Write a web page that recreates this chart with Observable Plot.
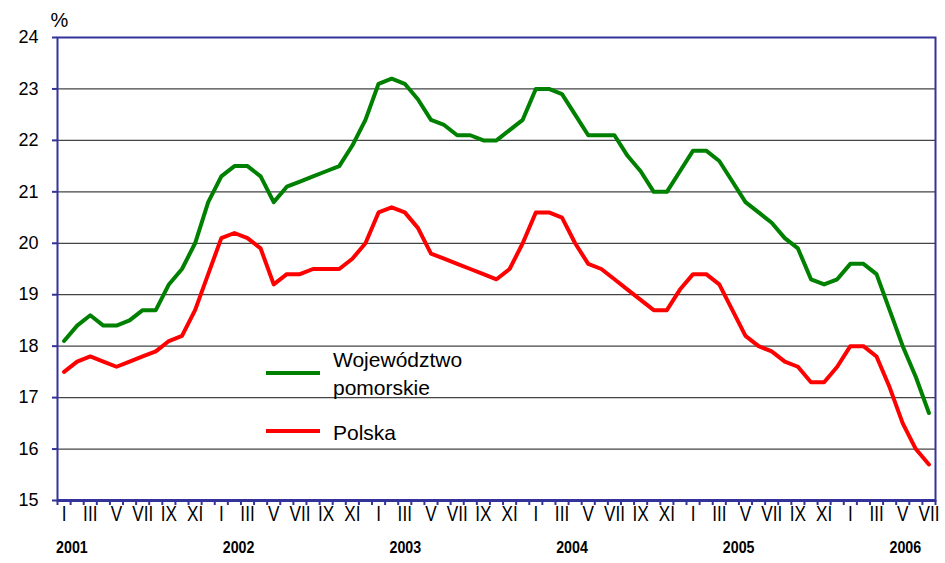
<!DOCTYPE html>
<html>
<head>
<meta charset="utf-8">
<script src="https://cdn.jsdelivr.net/npm/d3@7"></script>
<script src="https://cdn.jsdelivr.net/npm/@observablehq/plot@0.6"></script>
<style>
  html, body { margin: 0; padding: 0; background: #fff; }
  #wrap { position: relative; width: 945px; height: 563px; font-family: "Liberation Sans", Arial, sans-serif; }
  .lg-line { position: absolute; left: 266px; width: 54px; height: 4px; }
  .lg-text { position: absolute; left: 333px; font-size: 21px; line-height: 28px; color: #000; white-space: nowrap; }
</style>
</head>
<body>
<div id="wrap"></div>
<script>
// ---- data ----
const monthNames = ["I","II","III","IV","V","VI","VII","VIII","IX","X","XI","XII"];
const years = [2001, 2002, 2003, 2004, 2005, 2006];
const yTicks = [15, 16, 17, 18, 19, 20, 21, 22, 23, 24];
const seriesNames = ["Województwo pomorskie", "Polska"];
const seriesColors = ["#008000", "#ff0000"];
// Jan 2001 .. Jul 2006 (67 months), %
const pomorskie = [
  18.1, 18.4, 18.6, 18.4, 18.4, 18.5, 18.7, 18.7, 19.2, 19.5, 20.0, 20.8,
  21.3, 21.5, 21.5, 21.3, 20.8, 21.1, 21.2, 21.3, 21.4, 21.5, 21.9, 22.4,
  23.1, 23.2, 23.1, 22.8, 22.4, 22.3, 22.1, 22.1, 22.0, 22.0, 22.2, 22.4,
  23.0, 23.0, 22.9, 22.5, 22.1, 22.1, 22.1, 21.7, 21.4, 21.0, 21.0, 21.4,
  21.8, 21.8, 21.6, 21.2, 20.8, 20.6, 20.4, 20.1, 19.9, 19.3, 19.2, 19.3,
  19.6, 19.6, 19.4, 18.7, 18.0, 17.4, 16.7
];
const polska = [
  17.5, 17.7, 17.8, 17.7, 17.6, 17.7, 17.8, 17.9, 18.1, 18.2, 18.7, 19.4,
  20.1, 20.2, 20.1, 19.9, 19.2, 19.4, 19.4, 19.5, 19.5, 19.5, 19.7, 20.0,
  20.6, 20.7, 20.6, 20.3, 19.8, 19.7, 19.6, 19.5, 19.4, 19.3, 19.5, 20.0,
  20.6, 20.6, 20.5, 20.0, 19.6, 19.5, 19.3, 19.1, 18.9, 18.7, 18.7, 19.1,
  19.4, 19.4, 19.2, 18.7, 18.2, 18.0, 17.9, 17.7, 17.6, 17.3, 17.3, 17.6,
  18.0, 18.0, 17.8, 17.2, 16.5, 16.0, 15.7
];

const n = pomorskie.length;
const rows = d3.range(n).map(i => ({i, pom: pomorskie[i], pol: polska[i], m: monthNames[i % 12]}));
const boundaries = d3.range(n + 1).map(k => k - 0.5);

const chart = Plot.plot({
  width: 945,
  height: 563,
  marginLeft: 57,
  marginRight: 10,
  marginTop: 37,
  marginBottom: 63,
  x: {domain: [-0.5, n - 0.5], axis: null},
  y: {domain: [15, 24], axis: null},
  style: {fontFamily: "'Liberation Sans', Arial, sans-serif", background: "white", color: "black", overflow: "visible"},
  marks: [
    Plot.ruleY(yTicks.slice(1, -1), {stroke: "#444", strokeWidth: 1.2}),
    Plot.line(rows, {x: "i", y: "pom", stroke: seriesColors[0], strokeWidth: 4, strokeLinejoin: "round"}),
    Plot.line(rows, {x: "i", y: "pol", stroke: seriesColors[1], strokeWidth: 4, strokeLinejoin: "round"}),
    Plot.frame({stroke: "#333399", strokeWidth: 2}),
    Plot.ruleY([15], {stroke: "#333399", strokeWidth: 3}),
    Plot.axisY({ticks: yTicks, tickSize: 5, tickPadding: 14, fontSize: 18, stroke: "#333399", strokeWidth: 2, label: null, tickFormat: d => String(d)}),
    Plot.axisX({ticks: boundaries, tickSize: 5, tickFormat: () => "", stroke: "#333399", strokeWidth: 2, label: null}),
    Plot.text(rows.filter(d => d.i % 2 === 0), {x: "i", text: "m", frameAnchor: "bottom", dy: 20.5, fontSize: 22, fill: "black", ariaDescription: "months"}),
    // year captions are spread evenly under the axis (as in the original layout)
    Plot.text(years, {x: (d, k) => 0.6 + k * 12.72, text: d => String(d), frameAnchor: "bottom", dy: 52.5, fontSize: 16, fontWeight: "bold", fill: "black", ariaDescription: "years"}),
    Plot.text(["%"], {frameAnchor: "top-left", textAnchor: "start", lineAnchor: "middle", dx: -7, dy: -17, fontSize: 20, fill: "black"})
  ]
});

function condense(svg, desc, s) {
  d3.select(svg).selectAll(`g[aria-description="${desc}"] text`).each(function () {
    const t = this.getAttribute("transform");
    if (t) {
      this.setAttribute("transform", t + ` scale(${s},1)`);
    } else {
      const x = this.getAttribute("x") || 0, y = this.getAttribute("y") || 0;
      this.setAttribute("transform", `translate(${x},${y}) scale(${s},1)`);
      this.removeAttribute("x");
      this.removeAttribute("y");
    }
  });
}
condense(chart, "months", 0.78);
condense(chart, "years", 0.89);

const wrap = document.getElementById("wrap");
wrap.appendChild(chart);

// legend (drawn over the plot area, like the original)
const legend = [
  {name: "Województwo<br>pomorskie", color: seriesColors[0], lineTop: 371, textTop: 346},
  {name: seriesNames[1], color: seriesColors[1], lineTop: 429, textTop: 419}
];
for (const l of legend) {
  const ln = document.createElement("div");
  ln.className = "lg-line";
  ln.style.top = l.lineTop + "px";
  ln.style.background = l.color;
  wrap.appendChild(ln);
  const tx = document.createElement("div");
  tx.className = "lg-text";
  tx.style.top = l.textTop + "px";
  tx.innerHTML = l.name;
  wrap.appendChild(tx);
}
</script>
</body>
</html>
